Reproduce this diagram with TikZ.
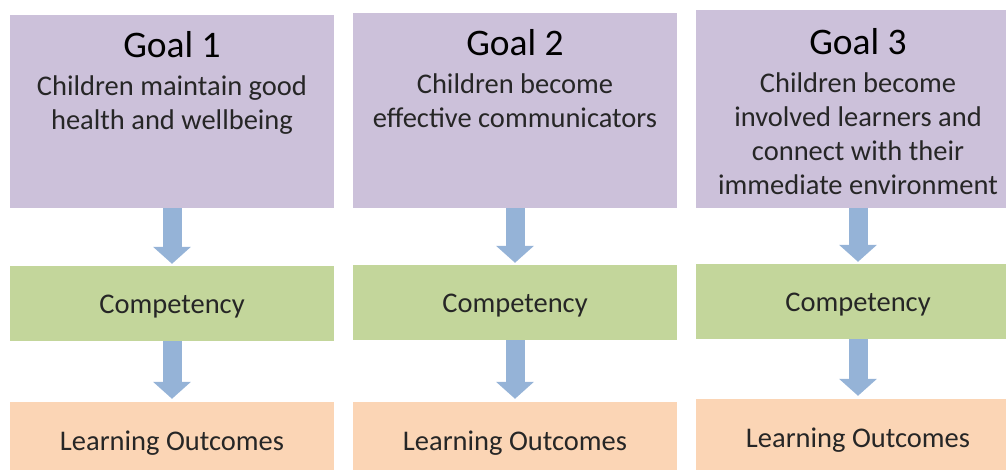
\documentclass[tikz,border=0pt]{standalone}
\usepackage{fontspec}
\setmainfont{Carlito}
\usetikzlibrary{arrows.meta}

\definecolor{goalfill}{HTML}{CCC1DA}
\definecolor{compfill}{HTML}{C3D69B}
\definecolor{outfill}{HTML}{FBD5B5}
\definecolor{arrowblue}{HTML}{95B3D7}
\definecolor{txtgray}{HTML}{262626}

\tikzstyle{goal}=[rectangle, fill=goalfill, minimum width=324pt, inner sep=0pt]
\tikzstyle{goaltext}=[anchor=north, align=center, inner sep=0pt, text=txtgray, font=\fontsize{28.5}{34}\selectfont]
\tikzstyle{comp}=[rectangle, fill=compfill, minimum width=324pt, minimum height=75pt, text height=22pt, text depth=3pt, text=txtgray, font=\fontsize{28.5}{34}\selectfont]
\tikzstyle{outcome}=[rectangle, fill=outfill, minimum width=324pt, minimum height=78pt, text height=22pt, text depth=3pt, text=txtgray, font=\fontsize{28.5}{34}\selectfont]
\tikzstyle{flow}=[draw=arrowblue, line width=19pt, -{Triangle[width=37pt,length=17pt,fill=arrowblue]}]
\newcommand{\goaltitle}[1]{{\fontsize{37.5}{40}\selectfont\color{black}#1}\\[4pt]}

\begin{document}
\begin{tikzpicture}[x=1pt,y=-1pt]
            \useasboundingbox (0,0) rectangle (1006,470);
            % goals
            \node[goal, minimum height=193pt] at (172,111.5) (G1) {};
            \node[goal, minimum height=195pt] at (515,110.5) (G2) {};
            \node[goal, minimum height=198pt] at (858,109) (G3) {};
            \node[goaltext] at ([yshift=-16pt]G1.north) (T1) {\goaltitle{Goal 1}Children maintain good\\health and wellbeing};
            \node[goaltext] at ([yshift=-16pt]G2.north) (T2) {\goaltitle{Goal 2}Children become\\effective communicators};
            \node[goaltext] at ([yshift=-18pt]G3.north) (T3) {\goaltitle{Goal 3}Children become\\involved learners and\\connect with their\\immediate environment};
            % competencies
            \node[comp] at (172,303.5) (C1) {Competency};
            \node[comp] at (515,302.5) (C2) {Competency};
            \node[comp] at (858,301.5) (C3) {Competency};
            % outcomes
            \node[outcome] at (172,441) (L1) {Learning Outcomes};
            \node[outcome] at (515,441) (L2) {Learning Outcomes};
            \node[outcome] at (858,438) (L3) {Learning Outcomes};
            % arrows
            \draw[flow, shorten >=2pt] (G1.south) -- (C1.north);
            \draw[flow, shorten >=2pt] (G2.south) -- (C2.north);
            \draw[flow, shorten >=2pt] (G3.south) -- (C3.north);
            \draw[flow, shorten >=3pt] (C1.south) -- (L1.north);
            \draw[flow, shorten >=3pt] (C2.south) -- (L2.north);
            \draw[flow, shorten >=3pt] (C3.south) -- (L3.north);
        \end{tikzpicture}
\end{document}
